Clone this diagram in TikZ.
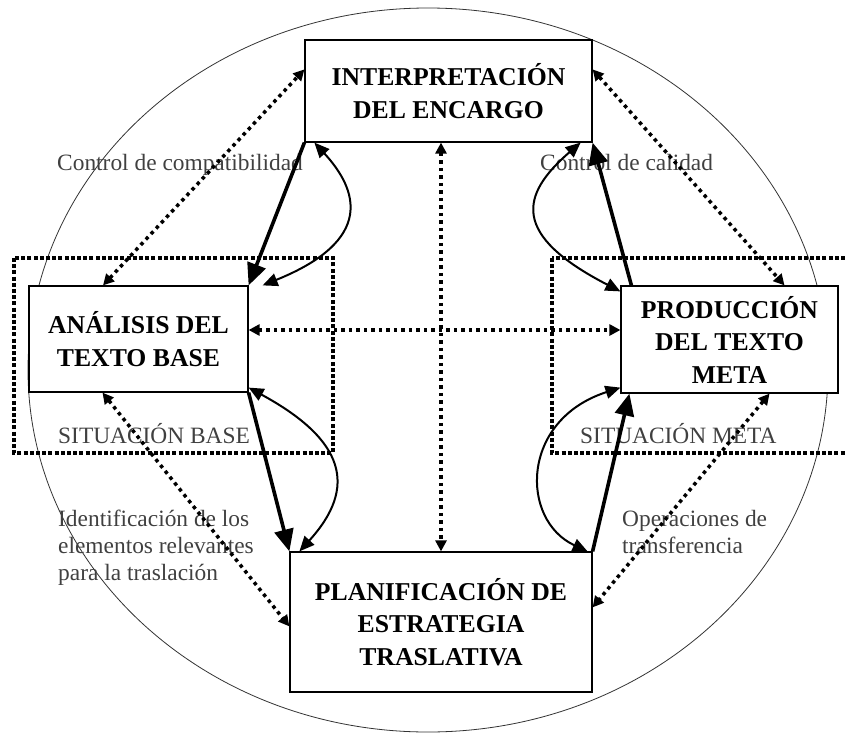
\documentclass[tikz,border=0pt]{standalone}
\usepackage{fontspec}
\setmainfont{Liberation Serif}
\usetikzlibrary{arrows.meta,calc}
\begin{document}
\begin{tikzpicture}[x=1pt,y=-1pt,
  box/.style={draw, line width=1.2pt, fill=white, inner sep=0pt, align=center,
    font=\bfseries\fontsize{25.7}{32.5}\selectfont},
  lbl/.style={anchor=base west, inner sep=0pt, text=black!75, align=left,
    font=\fontsize{23.4}{27}\selectfont},
  sitbox/.style={line width=3.8pt, dash pattern=on 4pt off 2.2pt},
  thickarr/.style={line width=3.6pt, -{Triangle[length=22pt,width=19pt]}},
  curvarr/.style={line width=2pt, {Triangle[length=15pt,width=13pt]}-{Triangle[length=15pt,width=13pt]}},
  dotarr/.style={line width=3.5pt, dash pattern=on 3.5pt off 4pt,
    {Triangle[length=11pt,width=11pt]}-{Triangle[length=11pt,width=11pt]}}]
\useasboundingbox (0,0) rectangle (845,733);
\clip (0,0) rectangle (845,733);
% outer ellipse
\draw[line width=0.8pt, black!80] (428,370) ellipse [x radius=400pt, y radius=362pt];
% situation frames
\draw[sitbox] (14,258) rectangle (333,453);
\draw[sitbox] (552,258) rectangle (860,453);
% boxes
\node[box, minimum width=287pt, minimum height=102pt] (ip) at (448.5,91) {INTERPRETACIÓN\\DEL ENCARGO};
\node[box, minimum width=219pt, minimum height=106pt] (an) at (138.5,339) {ANÁLISIS DEL\\TEXTO BASE};
\node[box, minimum width=217pt, minimum height=107pt] (pr) at (729.5,339.5) {PRODUCCIÓN\\DEL TEXTO\\META};
\node[box, minimum width=302pt, minimum height=140pt] (pl) at (441,622) {PLANIFICACIÓN DE\\ESTRATEGIA\\TRASLATIVA};
% labels
\node[lbl] (l1) at (57,170) {Control de compatibilidad};
\node[lbl] (l2) at (540,170) {Control de calidad};
\node[lbl] (l3) at (58,443) {SITUACIÓN BASE};
\node[lbl] (l4) at (580,443) {SITUACIÓN META};
\node[lbl] (l5) at (58,580) {Identificación de los\\elementos relevantes\\para la traslación};
\node[lbl] (l6) at (622,553) {Operaciones de\\transferencia};
% dotted arrows
\draw[dotarr] ([xshift=-35.5pt]an.north) -- ([yshift=-30pt]ip.north west);
\draw[dotarr] ([yshift=-30pt]ip.north east) -- ([xshift=55pt]pr.north);
\draw[dotarr] ([xshift=-36pt]an.south) -- ([yshift=-75pt]pl.north west);
\draw[dotarr] ([xshift=40pt]pr.south) -- ([yshift=-56pt]pl.north east);
\draw[dotarr] ([yshift=9pt]an.east) -- ([yshift=9.5pt]pr.west);
\draw[dotarr] ([xshift=-7.5pt]ip.south) -- (pl.north);
% thick arrows
\draw[thickarr] (ip.south west) -- (an.north east);
\draw[thickarr] ([xshift=11pt]pr.north west) -- (ip.south east);
\draw[thickarr] (an.south east) -- (pl.north west);
\draw[thickarr] (pl.north east) -- ([xshift=9pt]pr.south west);
% curved double arrows
\draw[curvarr] ([xshift=14pt]an.north east) .. controls (375,240) and (358,190) .. ([xshift=10pt]ip.south west);
\draw[curvarr] ([xshift=-12pt]ip.south east) .. controls (520,195) and (511,235) .. ([yshift=-6pt]pr.north west);
\draw[curvarr] ([yshift=5pt]an.south east) .. controls (345,440) and (358,487) .. ([xshift=10pt]pl.north west);
\draw[curvarr] ([yshift=6pt]pr.south west) .. controls (520,420) and (520,520) .. ([xshift=-5pt]pl.north east);
\end{tikzpicture}
\end{document}
